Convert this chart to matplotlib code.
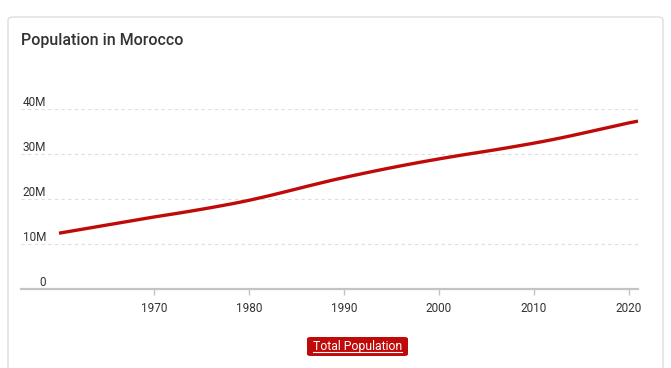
import matplotlib
matplotlib.use("Agg")
import matplotlib.pyplot as plt
from matplotlib.patches import FancyBboxPatch
from matplotlib.lines import Line2D
from matplotlib.ticker import FuncFormatter

years = list(range(1960, 2022))
population_m = [
    12.40, 12.76, 13.12, 13.48, 13.84, 14.20, 14.56, 14.92, 15.28, 15.64,
    16.00, 16.33, 16.66, 17.00, 17.35, 17.71, 18.08, 18.46, 18.85, 19.26,
    19.70, 20.17, 20.66, 21.17, 21.69, 22.22, 22.75, 23.27, 23.78, 24.28,
    24.75, 25.21, 25.66, 26.10, 26.53, 26.95, 27.36, 27.76, 28.15, 28.53,
    28.90, 29.26, 29.61, 29.95, 30.28, 30.61, 30.95, 31.30, 31.66, 32.03,
    32.40, 32.79, 33.20, 33.63, 34.08, 34.54, 35.01, 35.48, 35.95, 36.42,
    36.90, 37.30,
]
population = [v * 1e6 for v in population_m]
x_ticks = [1970, 1980, 1990, 2000, 2010, 2020]
y_ticks = [0, 10e6, 20e6, 30e6, 40e6]
title = "Population in Morocco"
legend_label = "Total Population"

W, H = 671, 368
fig = plt.figure(figsize=(W / 100, H / 100), dpi=100)
fig.patch.set_facecolor("white")

FONT = ["Roboto", "Liberation Sans", "DejaVu Sans"]

# card
card = FancyBboxPatch((8 / W, -0.05), (663 - 8) / W, (368 - 17) / H + 0.05,
                      boxstyle="round,pad=0,rounding_size=0.008",
                      transform=fig.transFigure, facecolor="white",
                      edgecolor="#dddddd", linewidth=1.0, zorder=0)
fig.add_artist(card)

fig.text(21 / W, 1 - 41 / H, title, fontsize=11.5, color="#333333",
         family=FONT, fontweight="medium", va="center", ha="left")

ax = fig.add_axes([21 / W, (H - 289) / H, (638 - 21) / W, (289 - 109) / H])
ax.set_facecolor("none")
ax.plot(years, population, color="#c00a0a", linewidth=2.4,
        solid_capstyle="butt", solid_joinstyle="round", zorder=3)
ax.set_xlim(1956, 2021)
ax.set_ylim(0, 40e6)
ax.set_xticks(x_ticks)
ax.set_yticks(y_ticks)
ax.yaxis.set_major_formatter(FuncFormatter(lambda v, p: "0" if v == 0 else f"{int(v/1e6)}M"))
ax.grid(axis="y", color="#dedede", linestyle=(0, (3, 3)), linewidth=0.8)
ax.grid(axis="x", visible=False)
for s in ["top", "right", "left"]:
    ax.spines[s].set_visible(False)
ax.spines["bottom"].set_color("#c4c4c4")
ax.spines["bottom"].set_linewidth(1.6)
ax.tick_params(axis="x", length=4, width=1, color="#c4c4c4", pad=5,
               labelsize=8.5, labelcolor="#333333")
ax.tick_params(axis="y", length=0, pad=-18, labelsize=8.5, labelcolor="#333333")
for lab in ax.get_xticklabels() + ax.get_yticklabels():
    lab.set_family(FONT)
for lab in ax.get_yticklabels():
    lab.set_verticalalignment("bottom")

# legend button
btn = FancyBboxPatch((307 / W, 1 - 356 / H), (408 - 307) / W, (356 - 337) / H,
                     boxstyle="round,pad=0,rounding_size=0.005",
                     transform=fig.transFigure, facecolor="#c00a0a",
                     edgecolor="none", zorder=2)
fig.add_artist(btn)
fig.text(357.5 / W, 1 - 346.5 / H, legend_label, fontsize=8.8, color="white",
         family=FONT, ha="center", va="center", zorder=3)
fig.add_artist(Line2D([313 / W, 402 / W], [1 - 352 / H, 1 - 352 / H],
                      transform=fig.transFigure, color="white", linewidth=0.8, zorder=4))

fig.savefig("out.png", dpi=100)
